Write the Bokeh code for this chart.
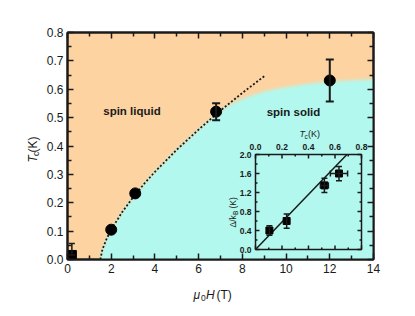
from bokeh.plotting import figure
from bokeh.models import (Range1d, LinearAxis, FixedTicker, Whisker, TeeHead,
                          ColumnDataSource, Label, CustomJSTickFormatter,
                          PrintfTickFormatter)
from bokeh.core.properties import value
from bokeh.embed import file_html
from bokeh.resources import INLINE

# ---------------- data ----------------
field_T = [2.0, 3.1, 6.8, 12.0]
tc_K = [0.105, 0.233, 0.521, 0.631]
tc_err = [0.0, 0.0, 0.03, 0.074]

sq_field = [0.2]
sq_tc = [0.016]
sq_err = [0.04]

dashed_field = [1.5, 1.6, 1.8, 2.0, 2.5, 3.0, 3.5, 4.0, 5.0, 6.0, 7.0, 8.0, 9.0]
dashed_tc = [0.0, 0.036, 0.075, 0.105, 0.167, 0.219, 0.266, 0.309, 0.387, 0.458, 0.525, 0.587, 0.646]

boundary_field = [1.5, 1.6, 1.8, 2.0, 2.5, 3.0, 3.5, 4.0, 5.0, 6.0, 7.0, 7.5, 8.0, 8.5, 9.0,
                  9.5, 10.0, 11.0, 12.0, 13.0, 14.0]
boundary_tc = [0.0, 0.036, 0.075, 0.105, 0.167, 0.219, 0.266, 0.309, 0.387, 0.458, 0.525, 0.548,
               0.566, 0.58, 0.592, 0.601, 0.608, 0.619, 0.627, 0.632, 0.635]

x_ticks = [0, 2, 4, 6, 8, 10, 12, 14]
x_minor = [1, 3, 5, 7, 9, 11, 13]
y_ticks = [0.0, 0.1, 0.2, 0.3, 0.4, 0.5, 0.6, 0.7, 0.8]
y_minor = [0.05, 0.15, 0.25, 0.35, 0.45, 0.55, 0.65, 0.75]

inset_tc = [0.105, 0.235, 0.52, 0.63]
inset_tc_err = [0.0, 0.0, 0.03, 0.065]
inset_gap = [0.40, 0.60, 1.35, 1.60]
inset_gap_err = [0.10, 0.15, 0.15, 0.15]
fit_tc = [0.0, 0.69]
fit_gap = [0.0, 2.0]

inset_x_ticks = [0.0, 0.2, 0.4, 0.6, 0.8]
inset_x_minor = [0.1, 0.3, 0.5, 0.7]
inset_y_ticks = [0.0, 0.4, 0.8, 1.2, 1.6, 2.0]
inset_y_minor = [0.2, 0.6, 1.0, 1.4, 1.8]

# ---------------- style / geometry (pixels) ----------------
FONT = "Liberation Sans"
INK = "#1a1a1a"
PEACH = "#FCD3A1"
CYAN = "#B2F8EE"
EDGE = "#D8E6C8"

FL, FT, FW, FH = 67, 32, 306, 227          # main frame on page
IL, IT, IW, IH = 255, 154, 106, 95          # inset frame on page
PAGE = 0
W, H = 410, 310


def style_axis(ax, ticks, minor, fmt=None, size="12px", tin=6, min_in=4, lw=2):
    ax.ticker = FixedTicker(ticks=ticks, minor_ticks=minor)
    ax.major_tick_in = tin
    ax.major_tick_out = 0
    ax.minor_tick_in = min_in
    ax.minor_tick_out = 0
    ax.axis_line_width = lw
    ax.axis_line_color = INK
    ax.major_tick_line_width = 1.5
    ax.minor_tick_line_width = 1.5
    ax.major_tick_line_color = INK
    ax.minor_tick_line_color = INK
    ax.major_label_text_font = FONT
    ax.major_label_text_font_size = size
    ax.major_label_text_color = INK
    ax.major_label_standoff = 4
    if fmt is None:
        ax.formatter = CustomJSTickFormatter(code="return ''")
        ax.major_label_standoff = 0
    else:
        ax.formatter = PrintfTickFormatter(format=fmt)


# inset ranges chosen so that inset axes land on the inset box
ix0, ix1 = inset_x_ticks[0], inset_x_ticks[-1]
iy0, iy1 = inset_y_ticks[0], inset_y_ticks[-1]
kx = IW / (ix1 - ix0)
ky = IH / (iy1 - iy0)
ix_start = ix0 - (IL - FL) / kx
iy_start = iy0 - (FT + FH - (IT + IH)) / ky

p = figure(frame_width=FW, frame_height=FH, x_range=Range1d(0, 14), y_range=Range1d(0, 0.8),
           output_backend="svg", toolbar_location=None,
           min_border_left=FL - PAGE, min_border_right=W - FW - (FL - PAGE),
           min_border_top=FT - PAGE, min_border_bottom=H - FH - (FT - PAGE),
           background_fill_color=PEACH, border_fill_color="white",
           outline_line_color=INK, outline_line_width=2)
p.extra_x_ranges = {"ix": Range1d(ix_start, ix_start + FW / kx)}
p.extra_y_ranges = {"iy": Range1d(iy_start, iy_start + FH / ky)}
p.grid.visible = False

style_axis(p.xaxis[0], x_ticks, x_minor, "%d")
style_axis(p.yaxis[0], y_ticks, y_minor, "%.1f")
top_ax = LinearAxis()
right_ax = LinearAxis()
style_axis(top_ax, x_ticks, x_minor)
style_axis(right_ax, y_ticks, y_minor)
p.add_layout(top_ax, "above")
p.add_layout(right_ax, "right")

# ---- phase regions ----
p.varea(x=boundary_field, y1=0, y2=boundary_tc, fill_color=CYAN)
p.line(boundary_field, boundary_tc, line_color=EDGE, line_width=4, line_alpha=0.6)
p.line(dashed_field, dashed_tc, line_dash="2 2", line_width=1.8, line_color=INK)


def whisker(src, base, dim, lw, head, xr="default", yr="default"):
    p.add_layout(Whisker(source=src, base=base, lower="lo", upper="hi", dimension=dim,
                         line_width=lw, line_color=INK, level="overlay",
                         x_range_name=xr, y_range_name=yr,
                         upper_head=TeeHead(size=head, line_width=lw, line_color=INK),
                         lower_head=TeeHead(size=head, line_width=lw, line_color=INK)))


eb = [(h, t, e) for h, t, e in zip(field_T, tc_K, tc_err) if e > 0]
whisker(ColumnDataSource(dict(x=[v[0] for v in eb],
                              lo=[v[1] - v[2] for v in eb],
                              hi=[v[1] + v[2] for v in eb])), "x", "height", 2, 8)
whisker(ColumnDataSource(dict(x=sq_field, lo=sq_tc,
                              hi=[t + e for t, e in zip(sq_tc, sq_err)])), "x", "height", 1.5, 6)

p.scatter(field_T, tc_K, size=11, color="black")
p.scatter(sq_field, sq_tc, marker="square", size=9, color="black")


def X(px):
    return (px - FL) / FW * 14


def Y(py):
    return (FT + FH - py) / FH * 0.8


def lab(x, y, text, size, style="normal", align="left", angle=0, place="center"):
    p.add_layout(Label(x=x, y=y, text=text, text_font=FONT, text_font_size=size,
                       text_font_style=style, text_color=INK, text_align=align,
                       text_baseline="middle", angle=angle, angle_units="deg",
                       level="overlay"), place)


lab(X(131.5), Y(110.5), "spin liquid", "11.5px", "bold", "center")
lab(X(293), Y(111), "spin solid", "11.5px", "bold", "center")

# x-axis title: mu0 H (T)  (placed in the bottom side panel so it is not clipped)
lab(X(193), Y(294), "μ", "12px", "italic", place="below")
lab(X(200.5), Y(297), "0", "8.5px", place="below")
lab(X(205.5), Y(294), "H", "12px", "italic", place="below")
lab(X(216), Y(294), "(T)", "12px", place="below")
# y-axis title: Tc (K)
lab(X(32), Y(162), "T", "12px", "italic", angle=90, place="left")
lab(X(35.5), Y(155.5), "c", "8.5px", angle=90, place="left")
lab(X(32), Y(152), "(K)", "12px", angle=90, place="left")

# ---------------- inset (drawn on the inset ranges) ----------------
R = dict(x_range_name="ix", y_range_name="iy")
p.quad(left=ix0, right=ix1, bottom=iy0, top=iy1, fill_color=CYAN,
       line_color=INK, line_width=1.5, **R)

tmaj_x, tmin_x = 4 / ky, 2 / ky
tmaj_y, tmin_y = 4 / kx, 2 / kx
for ticks, Lx in ((inset_x_ticks, tmaj_x), (inset_x_minor, tmin_x)):
    p.segment(x0=ticks, x1=ticks, y0=[iy0] * len(ticks), y1=[iy0 + Lx] * len(ticks),
              line_color=INK, line_width=1.5, **R)
    p.segment(x0=ticks, x1=ticks, y0=[iy1] * len(ticks), y1=[iy1 - Lx] * len(ticks),
              line_color=INK, line_width=1.5, **R)
for ticks, Ly in ((inset_y_ticks, tmaj_y), (inset_y_minor, tmin_y)):
    p.segment(y0=ticks, y1=ticks, x0=[ix0] * len(ticks), x1=[ix0 + Ly] * len(ticks),
              line_color=INK, line_width=1.5, **R)
    p.segment(y0=ticks, y1=ticks, x0=[ix1] * len(ticks), x1=[ix1 - Ly] * len(ticks),
              line_color=INK, line_width=1.5, **R)

p.text(x=inset_x_ticks, y=[iy1 + 8 / ky] * len(inset_x_ticks),
       text=["%.1f" % t for t in inset_x_ticks], text_font=value(FONT),
       text_font_size="8.5px", text_font_style="bold", text_color=INK,
       text_align="center", text_baseline="middle", **R)
p.text(x=[ix0 - 4 / kx] * len(inset_y_ticks), y=inset_y_ticks,
       text=["%.1f" % t for t in inset_y_ticks], text_font=value(FONT),
       text_font_size="8.5px", text_font_style="bold", text_color=INK,
       text_align="right", text_baseline="middle", **R)

p.line(fit_tc, fit_gap, line_color=INK, line_width=1.5, **R)
whisker(ColumnDataSource(dict(x=inset_tc,
                              lo=[g - e for g, e in zip(inset_gap, inset_gap_err)],
                              hi=[g + e for g, e in zip(inset_gap, inset_gap_err)])),
        "x", "height", 1.5, 6, "ix", "iy")
xe = [(t, g, e) for t, g, e in zip(inset_tc, inset_gap, inset_tc_err) if e > 0]
whisker(ColumnDataSource(dict(y=[v[1] for v in xe],
                              lo=[v[0] - v[2] for v in xe],
                              hi=[v[0] + v[2] for v in xe])),
        "y", "width", 1.5, 6, "ix", "iy")
p.scatter(inset_tc, inset_gap, marker="square", size=7, color="black", **R)

# inset titles
lab(X(299), Y(133.5), "T", "9px", "italic")
lab(X(304), Y(135.5), "c", "6.5px")
lab(X(307.5), Y(133.5), "(K)", "9px")
lab(X(232), Y(227), "Δ/k", "8.5px", angle=90)
lab(X(234.5), Y(214.5), "B", "6.5px", angle=90)
lab(X(232), Y(208), "(K)", "8.5px", angle=90)

open("out.html", "w").write(file_html(p, INLINE))
